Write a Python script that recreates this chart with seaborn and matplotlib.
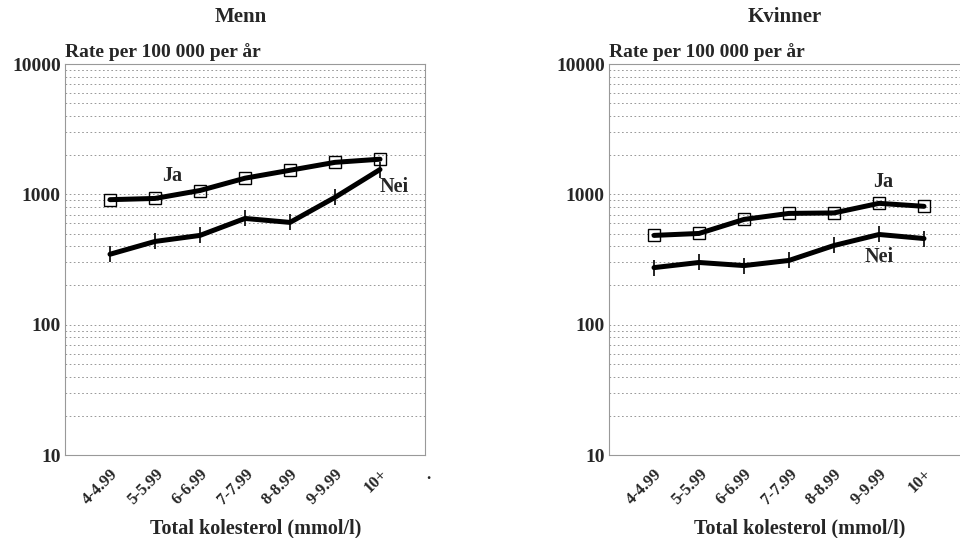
import numpy as np
import pandas as pd
import matplotlib
matplotlib.use("Agg")
import matplotlib.pyplot as plt
import seaborn as sns
from matplotlib.ticker import LogLocator, FixedLocator, NullFormatter

sns.set_theme(style="white")
plt.rcParams['font.family'] = ['Liberation Serif', 'DejaVu Serif']

categories = ["4-4.99", "5-5.99", "6-6.99", "7-7.99", "8-8.99", "9-9.99", "10+"]
menn_ja = [910, 930, 1070, 1330, 1530, 1760, 1860]
menn_nei = [347, 435, 484, 653, 609, 948, 1550]
kvinner_ja = [484, 501, 642, 714, 720, 853, 809]
kvinner_nei = [274, 300, 284, 311, 405, 492, 458]
yticks = [10, 100, 1000, 10000]
ytick_labels = ["10", "100", "1000", "10000"]

fig = plt.figure(figsize=(9.6, 5.38), dpi=100)
W, H = 960, 538

def ax_at(x0, y0, x1, y1):
    return fig.add_axes([x0 / W, 1 - y1 / H, (x1 - x0) / W, (y1 - y0) / H])

panels = [
    dict(title="Menn", ja=menn_ja, nei=menn_nei, x0=65,
         ja_lbl=(172, 176), nei_lbl=(394, 187)),
    dict(title="Kvinner", ja=kvinner_ja, nei=kvinner_nei, x0=609,
         ja_lbl=(883, 182), nei_lbl=(879, 257)),
]

for p in panels:
    ax = ax_at(p["x0"], 64, p["x0"] + 360, 455)
    df = pd.DataFrame({
        "kat": list(range(len(categories))) * 2,
        "rate": p["ja"] + p["nei"],
        "gruppe": ["Ja"] * len(categories) + ["Nei"] * len(categories),
    })
    sns.lineplot(data=df[df.gruppe == "Ja"], x="kat", y="rate", ax=ax,
                 color="black", lw=3.6, marker="s", markersize=8.5,
                 markerfacecolor="none", markeredgecolor="black",
                 markeredgewidth=1.0, legend=False, zorder=3)
    sns.lineplot(data=df[df.gruppe == "Nei"], x="kat", y="rate", ax=ax,
                 color="black", lw=3.6, marker="|", markersize=11,
                 markeredgecolor="black", markerfacecolor="black",
                 markeredgewidth=1.2, legend=False, zorder=3)
    ax.set_yscale("log")
    ax.set_ylim(10, 10000)
    ax.set_xlim(-1, 7)
    ax.yaxis.set_major_locator(FixedLocator(yticks))
    ax.set_yticklabels(ytick_labels, fontsize=14, fontweight="bold")
    ax.yaxis.set_minor_locator(LogLocator(base=10, subs=np.arange(2, 10)))
    ax.yaxis.set_minor_formatter(NullFormatter())
    ax.tick_params(axis="y", which="both", length=0, pad=3)
    ax.set_xticks(range(len(categories)))
    ax.set_xticklabels(categories, rotation=45, ha="right",
                       rotation_mode="anchor", fontsize=12, fontweight="bold")
    ax.tick_params(axis="x", direction="in", length=4, width=0.8,
                   color="#555555", pad=8)
    ax.grid(True, axis="y", which="both", ls=(0, (2, 3)), lw=0.6,
            color="#888888")
    ax.grid(False, axis="x")
    for s in ax.spines.values():
        s.set_color("#999999")
        s.set_linewidth(0.8)
    ax.set_xlabel("")
    ax.set_ylabel("")
    cx = p["x0"] + 180
    fig.text((cx - 4) / W, 1 - 17 / H, p["title"], ha="center", va="center",
             fontsize=15, fontweight="bold")
    fig.text(p["x0"] / W, 1 - 52 / H, "Rate per 100 000 per år",
             ha="left", va="center", fontsize=14, fontweight="bold")
    fig.text((cx + 11) / W, 1 - 528 / H, "Total kolesterol (mmol/l)",
             ha="center", va="center", fontsize=14.5, fontweight="bold")
    fig.text(p["ja_lbl"][0] / W, 1 - p["ja_lbl"][1] / H, "Ja",
             ha="center", va="center", fontsize=14.5, fontweight="bold")
    fig.text(p["nei_lbl"][0] / W, 1 - p["nei_lbl"][1] / H, "Nei",
             ha="center", va="center", fontsize=14.5, fontweight="bold")

fig.text(428 / W, 1 - 475 / H, ".", ha="center", va="center", fontsize=12,
         fontweight="bold")

fig.savefig("out.png", dpi=100)
